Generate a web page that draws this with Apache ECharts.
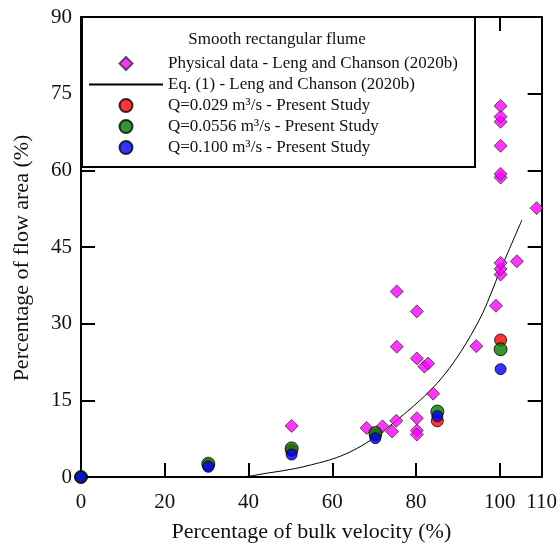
<!DOCTYPE html>
<html><head><meta charset="utf-8">
<script src="https://cdn.jsdelivr.net/npm/echarts@6/dist/echarts.min.js"></script>
<style>html,body{margin:0;padding:0;background:#fff}#c{width:560px;height:548px}</style>
</head><body><div id="c"></div>
<script>
// ---- data ----
const physicalData = [
  [50.3,10.0],[68.2,9.6],[72.0,9.9],[74.3,8.9],[75.3,11.0],[75.4,25.5],[75.4,36.3],
  [80.2,32.4],[80.2,23.2],[80.2,11.5],[80.2,9.1],[80.2,8.3],[82.0,21.6],[82.9,22.2],
  [84.1,16.3],[94.4,25.6],[99.1,33.5],[100.2,39.6],[100.2,40.7],[100.2,41.9],
  [100.2,58.6],[100.2,59.3],[100.2,64.8],[100.2,69.5],[100.2,70.5],[100.2,72.6],
  [104.1,42.2],[108.8,52.6]
];
const eqCurve = [
  [37,0],[40,0.15],[44,0.7],[48,1.2],[52,1.8],[56,2.6],[60,3.5],[64,4.8],[68,6.6],
  [72,8.9],[76,11.5],[80,14.3],[84,17.4],[88,21.3],[92,26.2],[96,32.2],[100,40.2],[105.3,50.3]
];
const q0029 = [[0,0],[30.4,2.3],[50.3,5.2],[70.3,8.2],[85.1,11.0],[100.2,26.8]];
const q0556 = [[0,0],[30.4,2.6],[50.3,5.6],[70.3,8.6],[85.1,12.8],[100.2,25.0]];
const q0100 = [[0,0],[30.4,2.0],[50.3,4.4],[70.3,7.6],[85.1,11.9],[100.2,21.1]];
const seriesNames = [
  'Physical data - Leng and Chanson (2020b)',
  'Eq. (1) - Leng and Chanson (2020b)',
  'Q=0.029 m\u00b3/s - Present Study',
  'Q=0.0556 m\u00b3/s - Present Study',
  'Q=0.100 m\u00b3/s - Present Study'
];
const legendTitle = 'Smooth rectangular flume';
const xTitle = 'Percentage of bulk velocity (%)';
const yTitle = 'Percentage of flow area (%)';
const xMin = 0, xMax = 110, xStep = 20;
const yMin = 0, yMax = 90, yStep = 15;

// ---- chart ----
const FONT = 'Liberation Serif';
const TXT = '#111';
const chart = echarts.init(document.getElementById('c'), null, {renderer:'canvas'});
const axisCommon = {
  type:'value',
  axisLine:{show:true, onZero:false, lineStyle:{color:'#000', width:2}},
  axisTick:{show:true, inside:true, length:14, lineStyle:{color:'#000', width:2}},
  splitLine:{show:false}
};
const hidden = 'rgba(0,0,0,0)';
// legend icon: a 13px diamond centred in a 74x13 box (invisible end points keep the box)
const diamondIcon = 'path://M0,6.5L0,6.5M37,0L43.5,6.5L37,13L30.5,6.5ZM74,6.5L74,6.5';
chart.setOption({
  animation:false,
  backgroundColor:'#fff',
  grid:{left:81, right:13, top:17, bottom:69, containLabel:false},
  title:{
    text:legendTitle, left:277, top:31, textAlign:'center', padding:0, z:12,
    textStyle:{fontFamily:FONT, fontSize:17, fontWeight:'normal', color:TXT}
  },
  graphic:[{
    type:'rect', z:10, left:81, top:16,
    shape:{x:0, y:0, width:393, height:150},
    style:{fill:'#fff', stroke:'#000', lineWidth:2}
  }],
  legend:{
    orient:'vertical', left:88, top:55, padding:0, z:12,
    itemWidth:74, itemHeight:13, itemGap:4,
    textStyle:{fontFamily:FONT, fontSize:17, color:TXT, lineHeight:17},
    data:[
      {name:seriesNames[0], icon:diamondIcon},
      {name:seriesNames[1], itemStyle:{color:hidden, borderColor:hidden, borderWidth:0}},
      {name:seriesNames[2]},
      {name:seriesNames[3]},
      {name:seriesNames[4]}
    ]
  },
  xAxis:[
    Object.assign({}, axisCommon, {
      position:'bottom', min:xMin, max:xMax, interval:xStep,
      axisLabel:{show:true, margin:15, fontFamily:FONT, fontSize:21, color:TXT},
      name:xTitle, nameLocation:'middle', nameGap:44,
      nameTextStyle:{fontFamily:FONT, fontSize:22, color:TXT}
    }),
    Object.assign({}, axisCommon, {
      position:'top', min:xMin, max:xMax, interval:xStep, axisLabel:{show:false}
    })
  ],
  yAxis:[
    Object.assign({}, axisCommon, {
      position:'left', min:yMin, max:yMax, interval:yStep,
      axisLabel:{show:true, margin:9, fontFamily:FONT, fontSize:21, color:TXT},
      name:yTitle, nameLocation:'middle', nameGap:48,
      nameTextStyle:{fontFamily:FONT, fontSize:22, color:TXT, padding:[0,22,0,0]}
    }),
    Object.assign({}, axisCommon, {
      position:'right', min:yMin, max:yMax, interval:yStep, axisLabel:{show:false}
    })
  ],
  series:[
    {name:seriesNames[0], type:'scatter', data:physicalData, symbol:'diamond', symbolSize:13,
     itemStyle:{color:'#ff00ff', borderColor:'#333', borderWidth:1}, z:3},
    {name:seriesNames[1], type:'line', data:eqCurve, smooth:0.3, symbol:'none', showSymbol:false,
     lineStyle:{color:'#000', width:1}, itemStyle:{color:'#000'}, z:2},
    {name:seriesNames[2], type:'scatter', data:q0029, symbol:'circle', symbolSize:12,
     itemStyle:{color:'#ff0000', borderColor:'#000', borderWidth:1}, z:4},
    {name:seriesNames[3], type:'scatter', data:q0556, symbol:'circle', symbolSize:13,
     itemStyle:{color:'#007a00', borderColor:'#000', borderWidth:1}, z:5},
    {name:seriesNames[4], type:'scatter', data:q0100, symbol:'circle', symbolSize:11,
     itemStyle:{color:'#0000ff', borderColor:'#000', borderWidth:1}, z:6}
  ]
});
</script></body></html>
